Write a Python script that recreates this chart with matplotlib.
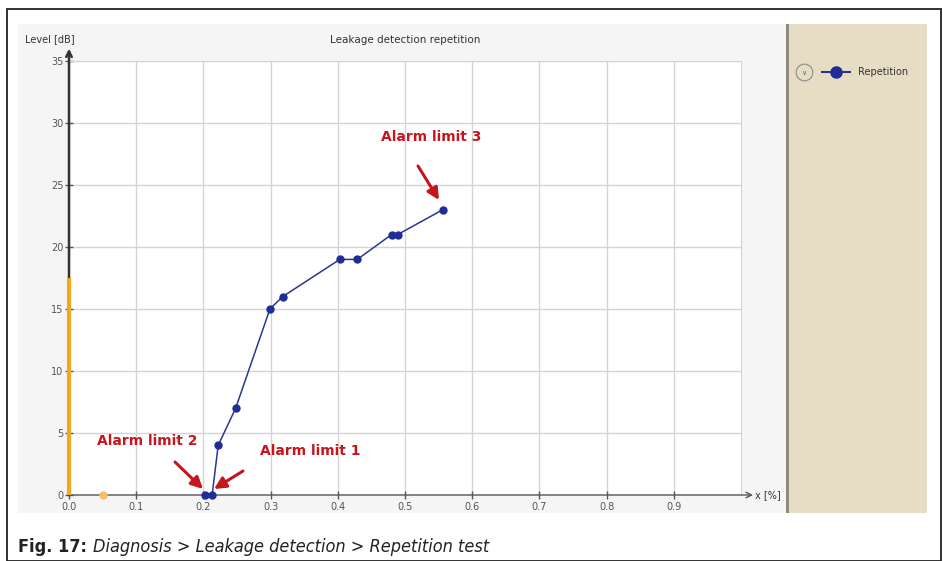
import matplotlib
matplotlib.use("Agg")
from matplotlib import pyplot as plt
from matplotlib.patches import Rectangle

# data
x_pct = [0.203, 0.213, 0.222, 0.248, 0.299, 0.318, 0.403, 0.429, 0.480, 0.489, 0.556]
level_db = [0, 0, 4, 7, 15, 16, 19, 19, 21, 21, 23]
x_ticks = [0.0, 0.1, 0.2, 0.3, 0.4, 0.5, 0.6, 0.7, 0.8, 0.9]
y_ticks = [0, 5, 10, 15, 20, 25, 30, 35]
orange_bar = [0, 17.5]
orange_dot = (0.05, 0)
alarms = ["Alarm limit 1", "Alarm limit 2", "Alarm limit 3"]

W, H = 943, 561
fig = plt.figure(figsize=(W / 100, H / 100), dpi=100)
fig.patch.set_facecolor("white")


def px(x0, y0, x1, y1):
    ''' pixel box (top-left origin) -> figure fraction rect '''
    return [x0 / W, 1 - y1 / H, (x1 - x0) / W, (y1 - y0) / H]


def fx(x, y):
    return (x / W, 1 - y / H)


def panel(x0, y0, x1, y1, **kw):
    r = Rectangle(fx(x0, y1), (x1 - x0) / W, (y1 - y0) / H, transform=fig.transFigure, zorder=-10, **kw)
    fig.patches.append(r)


# outer frame + screenshot panels
panel(7, 9, 941, 561, fill=False, edgecolor="#222222", lw=1.3)
panel(18, 24, 787, 513, facecolor="#f5f5f5", edgecolor="none")
panel(789, 24, 927, 513, facecolor="#e6ddc4", edgecolor="none")
panel(786, 24, 789, 513, facecolor="#8e8a80", edgecolor="none")

ax = fig.add_axes(px(69, 61, 741, 495))
ax.set_facecolor("white")
ax.set_xlim(0, 1.0)
ax.set_ylim(0, 35)
ax.set_xticks(x_ticks)
ax.set_yticks(y_ticks)
ax.set_xticklabels(["%.1f" % t for t in x_ticks])
ax.grid(True, color="#d4d4d4", lw=1)
ax.set_axisbelow(True)
for s in ["top", "right"]:
    ax.spines[s].set_color("#d4d4d4")
ax.spines["left"].set_visible(False)
ax.spines["bottom"].set_visible(False)
ax.tick_params(axis="both", colors="#555555", labelsize=7, direction="inout", length=6, width=1)
ax.tick_params(axis="x", pad=2)
ax.tick_params(axis="y", pad=1)

# axis lines with arrows
ax.annotate("", xy=(0, 36.0), xytext=(0, 0), xycoords="data",
            arrowprops=dict(arrowstyle="->", color="#333333", lw=1.8, shrinkA=0, shrinkB=0),
            annotation_clip=False)
ax.annotate("", xy=(1.018, 0), xytext=(0, 0), xycoords="data",
            arrowprops=dict(arrowstyle="->", color="#555555", lw=1.0, shrinkA=0, shrinkB=0),
            annotation_clip=False)

ax.plot([0, 0], orange_bar, color="#f3a81d", lw=3, solid_capstyle="butt", zorder=4, clip_on=False)
ax.plot([orange_dot[0]], [orange_dot[1]], "o", color="#f6c063", ms=5, zorder=4, clip_on=False)

ax.plot(x_pct, level_db, "-o", color="#2b3592", lw=1.1, ms=5, markerfacecolor="#1f2d94",
        markeredgecolor="#1f2d94", zorder=5, clip_on=False, label="Repetition")

fig.text(*fx(25, 39), "Level [dB]", fontsize=7, color="#333333", va="center", ha="left")
fig.text(*fx(405, 40), "Leakage detection repetition", fontsize=7.5, color="#333333", va="center", ha="center")
fig.text(*fx(755, 495), "x [%]", fontsize=7, color="#333333", va="center", ha="left")

# alarm annotations
red = "#c4161c"
fs = 10
ax.annotate(alarms[0], xy=(0.213, 0.2), xytext=fx(260, 451), textcoords="figure fraction",
            color=red, fontsize=fs, fontweight="bold", va="center", ha="left", annotation_clip=False)
ax.annotate(alarms[1], xy=(0.203, 0.2), xytext=fx(97, 441), textcoords="figure fraction",
            color=red, fontsize=fs, fontweight="bold", va="center", ha="left", annotation_clip=False)
ax.annotate(alarms[2], xy=(0.556, 23), xytext=fx(381, 137), textcoords="figure fraction",
            color=red, fontsize=fs, fontweight="bold", va="center", ha="left", annotation_clip=False)
arrow = dict(arrowstyle="-|>,head_length=0.7,head_width=0.35", color=red, lw=2.2, shrinkA=0, shrinkB=0)
ax.annotate("", xy=fx(214, 489), xytext=fx(243, 471), xycoords="figure fraction",
            textcoords="figure fraction", arrowprops=arrow)
ax.annotate("", xy=fx(203, 489), xytext=fx(175, 462), xycoords="figure fraction",
            textcoords="figure fraction", arrowprops=arrow)
ax.annotate("", xy=fx(439, 200), xytext=fx(418, 166), xycoords="figure fraction",
            textcoords="figure fraction", arrowprops=arrow)

# legend (drawn by hand like the screenshot)
fig.lines.append(plt.Line2D([804 / W], [1 - 72 / H], transform=fig.transFigure, marker="o", ms=12,
                            markerfacecolor="none", markeredgecolor="#8a8a8a", mew=0.8))
fig.text(*fx(804, 73), "\u2228", fontsize=5, color="#666666", ha="center", va="center")
fig.lines.append(plt.Line2D([822 / W, 850 / W], [1 - 72 / H, 1 - 72 / H], transform=fig.transFigure,
                            color="#2b3592", lw=1.5))
fig.lines.append(plt.Line2D([836 / W], [1 - 72 / H], transform=fig.transFigure, marker="o", ms=8,
                            color="#1f2d94"))
fig.text(*fx(858, 72), "Repetition", fontsize=7, color="#333333", ha="left", va="center")

# caption
fig.text(*fx(18, 547), "Fig. 17:", fontsize=13, fontweight="bold", color="#222222",
         ha="left", va="center", fontstretch="condensed")
fig.text(*fx(93, 547), "Diagnosis > Leakage detection > Repetition test", fontsize=13, style="italic",
         color="#222222", ha="left", va="center", fontstretch="condensed")

fig.savefig("out.png", dpi=100)
